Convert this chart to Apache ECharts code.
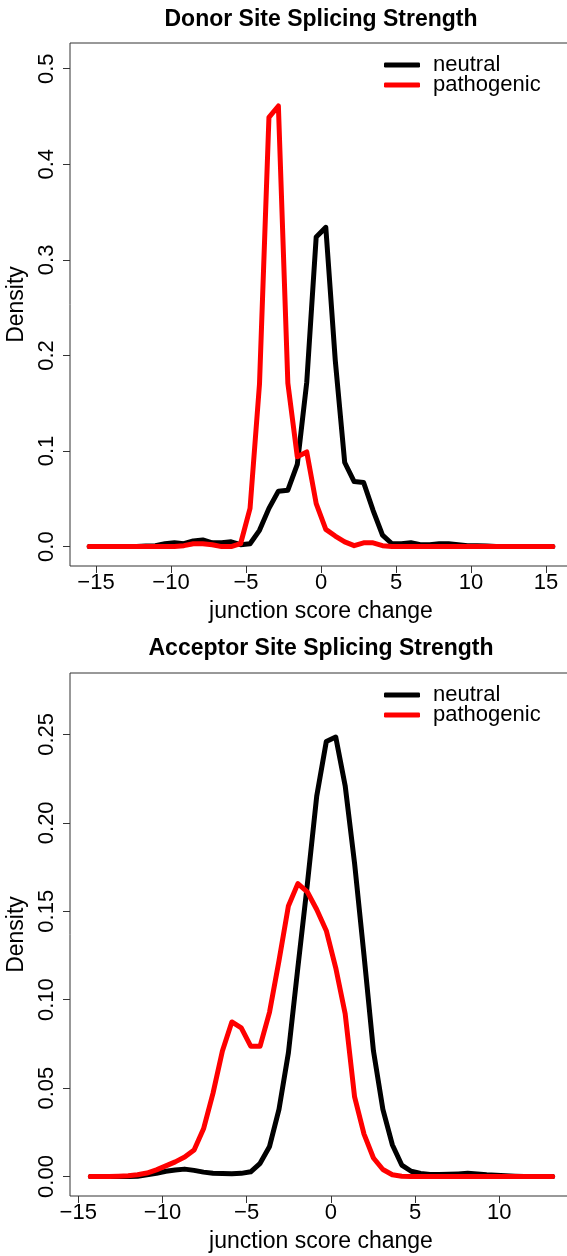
<!DOCTYPE html>
<html>
<head>
<meta charset="utf-8">
<script src="https://cdn.jsdelivr.net/npm/echarts@6/dist/echarts.min.js"></script>
<style>
body{margin:0;background:#fff;}
#main{width:567px;height:1256px;}
</style>
</head>
<body>
<div id="main"></div>
<script>
// donor panel - density grid (x) and the two curves
var donorX = [-15.45,-14.82,-14.19,-13.56,-12.93,-12.30,-11.67,-11.04,-10.40,-9.77,
	-9.14,-8.51,-7.88,-7.25,-6.62,-5.99,-5.36,-4.73,-4.10,-3.47,
	-2.84,-2.21,-1.58,-0.95,-0.32,0.32,0.95,1.58,2.21,2.84,
	3.47,4.10,4.73,5.36,5.99,6.62,7.25,7.88,8.51,9.14,
	9.77,10.40,11.04,11.67,12.30,12.93,13.56,14.19,14.82,15.45];
var donorNeutral = [0,0,0,0,0,0,0.0005,0.001,0.003,0.004,
	0.003,0.006,0.007,0.004,0.004,0.005,0.002,0.003,0.017,0.040,
	0.058,0.059,0.086,0.172,0.324,0.334,0.195,0.088,0.068,0.067,
	0.038,0.012,0.003,0.003,0.004,0.002,0.002,0.003,0.003,0.002,
	0.001,0.001,0.0005,0,0,0,0,0,0,0];
var donorPatho = [0,0,0,0,0,0,0,0,0,0,
	0.001,0.003,0.003,0.002,0,0,0.003,0.040,0.170,0.449,
	0.461,0.171,0.094,0.099,0.045,0.018,0.011,0.005,0.001,0.004,
	0.004,0.001,0,0,0,0,0,0,0,0,
	0,0,0,0,0,0,0,0,0,0];

// acceptor panel
var accX = [-14.28,-13.72,-13.16,-12.60,-12.04,-11.48,-10.92,-10.36,-9.80,-9.24,
	-8.68,-8.12,-7.56,-7.00,-6.44,-5.88,-5.32,-4.76,-4.20,-3.64,
	-3.08,-2.52,-1.96,-1.40,-0.84,-0.27,0.29,0.85,1.41,1.97,
	2.53,3.09,3.65,4.21,4.77,5.33,5.89,6.45,7.01,7.57,
	8.13,8.69,9.25,9.81,10.37,10.93,11.49,12.05,12.61,13.17];
var accNeutral = [0,0,0,0,0,0.0002,0.001,0.0018,0.003,0.0037,
	0.0042,0.0035,0.0025,0.0019,0.0017,0.0016,0.0018,0.0027,0.0075,0.017,
	0.038,0.070,0.118,0.165,0.215,0.246,0.2485,0.221,0.177,0.125,
	0.071,0.038,0.018,0.0065,0.003,0.0017,0.0012,0.0012,0.0013,0.0015,
	0.0018,0.0015,0.001,0.0008,0.0005,0.0002,0,0,0,0];
var accPatho = [0,0,0,0.0002,0.0005,0.001,0.002,0.0038,0.006,0.0083,
	0.011,0.015,0.027,0.047,0.071,0.0874,0.084,0.0737,0.0737,0.093,
	0.122,0.153,0.1656,0.161,0.151,0.139,0.118,0.092,0.045,0.024,
	0.0105,0.004,0.001,0.0002,0,0,0,0,0,0,
	0,0,0,0,0,0,0,0,0,0];

var donorXTicks = [-15,-10,-5,0,5,10,15];
var accXTicks = [-15,-10,-5,0,5,10];
var donorYTicks = [0,0.1,0.2,0.3,0.4,0.5];
var accYTicks = [0,0.05,0.1,0.15,0.2,0.25];

var FONT = 'Liberation Sans, Arial, sans-serif';
var BOX = '#333';

function pairs(xs, ys){
	var out = [];
	for (var i = 0; i < xs.length; i++) out.push([xs[i], ys[i]]);
	return out;
}

function minusFmt(v){
	return String(v).replace('-', '\u2212');
}

function xAx(idx, mn, mx, ticks){
	return {
		type: 'value', gridIndex: idx, min: mn, max: mx, position: 'bottom',
		name: 'junction score change', nameLocation: 'middle', nameGap: 34,
		nameTextStyle: {fontFamily: FONT, fontSize: 23, color: '#000'},
		axisLine: {show: false, onZero: false},
		splitLine: {show: false},
		axisTick: {show: true, length: 7, customValues: ticks, lineStyle: {color: BOX, width: 1}},
		axisLabel: {customValues: ticks, margin: 6, fontFamily: FONT, fontSize: 22, color: '#000', formatter: minusFmt}
	};
}

function yAx(idx, mn, mx, ticks, dec){
	return {
		type: 'value', gridIndex: idx, min: mn, max: mx, position: 'left',
		name: 'Density', nameLocation: 'middle', nameGap: 40, nameRotate: 90,
		nameTextStyle: {fontFamily: FONT, fontSize: 23, color: '#000'},
		axisLine: {show: false, onZero: false},
		splitLine: {show: false},
		axisTick: {show: true, length: 7, customValues: ticks, lineStyle: {color: BOX, width: 1}},
		axisLabel: {customValues: ticks, rotate: 90, margin: 12, fontFamily: FONT, fontSize: 22, color: '#000',
			formatter: function(v){ return v.toFixed(dec); }}
	};
}

function curve(name, color, idx, xs, ys){
	return {
		name: name, type: 'line', xAxisIndex: idx, yAxisIndex: idx,
		data: pairs(xs, ys), showSymbol: false, symbol: 'none', silent: true,
		itemStyle: {color: color},
		lineStyle: {color: color, width: 5, cap: 'round', join: 'round'}
	};
}

function legendAt(top){
	return {
		data: ['neutral', 'pathogenic'], orient: 'vertical', left: 384, top: top,
		padding: 0, icon: 'roundRect', itemWidth: 36, itemHeight: 5, itemGap: -2,
		selectedMode: false,
		textStyle: {fontFamily: FONT, fontSize: 22, color: '#000', padding: [0, 0, 0, 8]}
	};
}

var chart = echarts.init(document.getElementById('main'), null, {renderer: 'canvas'});

chart.setOption({
	animation: false,
	backgroundColor: '#fff',
	title: [
		{text: 'Donor Site Splicing Strength', left: 316, top: 3, textAlign: 'center',
			textStyle: {fontFamily: FONT, fontSize: 23, fontWeight: 'bold', color: '#000'}},
		{text: 'Acceptor Site Splicing Strength', left: 316, top: 632, textAlign: 'center',
			textStyle: {fontFamily: FONT, fontSize: 23, fontWeight: 'bold', color: '#000'}}
	],
	legend: [legendAt(54), legendAt(684)],
	grid: [
		{left: 70, top: 43, width: 502, height: 523, outerBoundsMode: 'none', containLabel: false,
			show: true, borderColor: BOX, borderWidth: 1, backgroundColor: 'transparent'},
		{left: 70, top: 673, width: 502, height: 523, outerBoundsMode: 'none', containLabel: false,
			show: true, borderColor: BOX, borderWidth: 1, backgroundColor: 'transparent'}
	],
	xAxis: [xAx(0, -16.73, 16.73, donorXTicks), xAx(1, -15.49, 14.32, accXTicks)],
	yAxis: [yAx(0, -0.0203, 0.5269, donorYTicks, 1), yAx(1, -0.011, 0.2847, accYTicks, 2)],
	series: [
		curve('neutral', '#000', 0, donorX, donorNeutral),
		curve('pathogenic', '#ff0000', 0, donorX, donorPatho),
		curve('neutral', '#000', 1, accX, accNeutral),
		curve('pathogenic', '#ff0000', 1, accX, accPatho)
	]
});
</script>
</body>
</html>
